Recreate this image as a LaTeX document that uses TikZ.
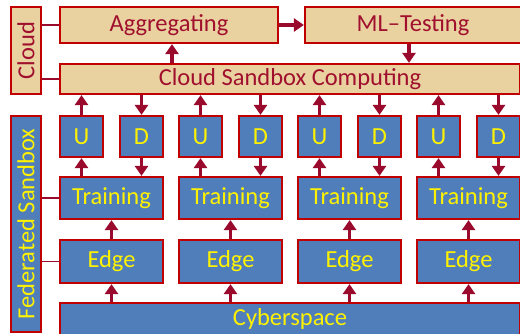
\documentclass[tikz,border=0pt]{standalone}
\usepackage{fontspec}
\setmainfont{Carlito}
\usetikzlibrary{arrows.meta}

\definecolor{boxred}{HTML}{C00000}
\definecolor{arrowred}{HTML}{9A0A2C}
\definecolor{cloudtext}{HTML}{A0102E}
\definecolor{papyrus}{HTML}{EAD2A0}
\definecolor{fedblue}{HTML}{4F7EBB}

\begin{document}
\begin{tikzpicture}[x=1pt, y=-1pt,
    cloudbox/.style={draw=boxred, line width=2.2pt, fill=papyrus, text=cloudtext, inner sep=0pt,
        font=\fontsize{24.5}{29}\selectfont},
    fedbox/.style={draw=boxred, line width=2.2pt, fill=fedblue, text=yellow, inner sep=0pt,
        font=\fontsize{24.5}{29}\selectfont},
    ud/.style={fedbox, minimum width=43pt, minimum height=41pt},
    trainbox/.style={fedbox, minimum width=103pt, minimum height=42pt},
    edgebox/.style={fedbox, minimum width=103pt, minimum height=43pt},
    flow/.style={draw=arrowred, line width=3.2pt, -{Triangle[width=13pt,length=10pt]}},
    tie/.style={draw=arrowred, line width=1.4pt}]

                \clip (0,0) rectangle (520,334);

                % cloud layer
                \node[cloudbox, minimum width=87pt, minimum height=30pt, rotate=90] (cloud) at (26,50.5) {Cloud};
                \node[cloudbox, minimum width=218pt, minimum height=36pt] (agg) at (169,25) {Aggregating};
                \node[cloudbox, minimum width=216pt, minimum height=36pt] (ml) at (413,25) {ML--Testing};
                \node[cloudbox, minimum width=460pt, minimum height=30pt] (csb) at (290,79) {Cloud Sandbox Computing};

                % federated sandbox layer
                \node[fedbox, minimum width=216pt, minimum height=30pt, rotate=90] (fed) at (26,224) {Federated Sandbox};

                \node[ud] (u1) at (81.5,136.5) {U};
                \node[ud] (d1) at (141.5,136.5) {D};
                \node[ud] (u2) at (200.5,136.5) {U};
                \node[ud] (d2) at (260.5,136.5) {D};
                \node[ud] (u3) at (319.5,136.5) {U};
                \node[ud] (d3) at (379.5,136.5) {D};
                \node[ud] (u4) at (438.5,136.5) {U};
                \node[ud] (d4) at (498.5,136.5) {D};

                \node[trainbox] (t1) at (111.5,198) {Training};
                \node[trainbox] (t2) at (230.5,198) {Training};
                \node[trainbox] (t3) at (349.5,198) {Training};
                \node[trainbox] (t4) at (468.5,198) {Training};

                \node[edgebox] (e1) at (111.5,261.5) {Edge};
                \node[edgebox] (e2) at (230.5,261.5) {Edge};
                \node[edgebox] (e3) at (349.5,261.5) {Edge};
                \node[edgebox] (e4) at (468.5,261.5) {Edge};

                \node[fedbox, minimum width=460pt, minimum height=32pt] (cyber) at (290,319) {Cyberspace};

                % ties from the layer labels
                \draw[tie] (cloud.south |- agg.west) -- (agg.west);
                \draw[tie] (cloud.south |- csb.west) -- (csb.west);
                \draw[tie] (fed.south |- t1.west) -- (t1.west);
                \draw[tie] (fed.south |- e1.west) -- (e1.west);

                % cloud flows
                \draw[flow] (agg.east) -- (ml.west);
                \draw[flow] (csb.north -| 172,0) -- (agg.south -| 172,0);
                \draw[flow] (ml.south -| 409,0) -- (csb.north -| 409,0);

                % uploads and downloads
                \draw[flow] (u1.north) -- (u1.north |- csb.south);
                \draw[flow] (d1.north |- csb.south) -- (d1.north);
                \draw[flow] (u2.north) -- (u2.north |- csb.south);
                \draw[flow] (d2.north |- csb.south) -- (d2.north);
                \draw[flow] (u3.north) -- (u3.north |- csb.south);
                \draw[flow] (d3.north |- csb.south) -- (d3.north);
                \draw[flow] (u4.north) -- (u4.north |- csb.south);
                \draw[flow] (d4.north |- csb.south) -- (d4.north);

                \draw[flow] (u1.south |- t1.north) -- (u1.south);
                \draw[flow] (d1.south) -- (d1.south |- t1.north);
                \draw[flow] (u2.south |- t2.north) -- (u2.south);
                \draw[flow] (d2.south) -- (d2.south |- t2.north);
                \draw[flow] (u3.south |- t3.north) -- (u3.south);
                \draw[flow] (d3.south) -- (d3.south |- t3.north);
                \draw[flow] (u4.south |- t4.north) -- (u4.south);
                \draw[flow] (d4.south) -- (d4.south |- t4.north);

                % edge to training, cyberspace to edge
                \draw[flow] (e1.north) -- (t1.south);
                \draw[flow] (e2.north) -- (t2.south);
                \draw[flow] (e3.north) -- (t3.south);
                \draw[flow] (e4.north) -- (t4.south);

                \draw[flow] (cyber.north -| e1.south) -- (e1.south);
                \draw[flow] (cyber.north -| e2.south) -- (e2.south);
                \draw[flow] (cyber.north -| e3.south) -- (e3.south);
                \draw[flow] (cyber.north -| e4.south) -- (e4.south);

            \end{tikzpicture}
\end{document}
